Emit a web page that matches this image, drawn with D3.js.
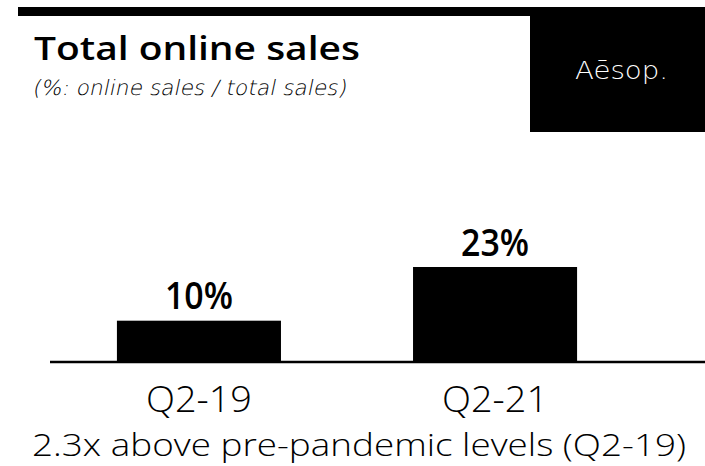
<!DOCTYPE html>
<html>
<head>
<meta charset="utf-8">
<script src="https://cdn.jsdelivr.net/npm/d3@7"></script>
<style>
  html, body { margin: 0; padding: 0; background: #fff; }
  svg { display: block; font-family: "DejaVu Sans", sans-serif; }
  .heavy { font-family: "Open Sans", "Noto Sans", sans-serif; font-weight: 600; }
  .plain { font-family: "Open Sans", "Noto Sans", sans-serif; font-weight: 300; }
</style>
</head>
<body>
<svg id="chart" width="705" height="466"></svg>
<script>
// Online share of total sales by quarter
const categories = ["Q2-19", "Q2-21"];
const values = [10, 23];
const valueLabels = ["10%", "23%"];

const W = 705, H = 466;
const svg = d3.select("#chart");

// Stretch a text horizontally to a set width, keeping its anchor point
function fit(sel, width, extra = "") {
  const w = sel.node().getComputedTextLength();
  const x0 = +sel.attr("x") || 0, y0 = +sel.attr("y") || 0;
  sel.attr("x", 0).attr("y", 0)
    .attr("transform", `translate(${x0},${y0}) ${extra} scale(${width / w},1)`);
  return sel;
}

// Header band and brand block
svg.append("rect").attr("x", 18).attr("y", 7).attr("width", W - 18).attr("height", 9).attr("fill", "#000");
svg.append("rect").attr("x", 530).attr("y", 16).attr("width", W - 530).attr("height", 116).attr("fill", "#000");
fit(svg.append("text").attr("x", 575).attr("y", 79)
  .attr("fill", "#fff").attr("font-size", 25).attr("font-weight", 300)
  .text("Aēsop."), 93);

fit(svg.append("text").attr("class", "heavy").attr("x", 34).attr("y", 60)
  .attr("font-size", 32).attr("fill", "#000")
  .text("Total online sales"), 326);
fit(svg.append("text").attr("x", 32).attr("y", 95)
  .attr("font-size", 21).attr("font-weight", 200).attr("fill", "#000")
  .text("(%: online sales / total sales)"), 314, "skewX(-12)");

// Plot area
const baseY = 362;
const x = d3.scaleBand().domain(categories).range([50, 644]).paddingInner(0.446).paddingOuter(0.226);
const y = d3.scaleLinear().domain([0, 23]).range([baseY, 267]);

svg.selectAll("rect.bar").data(values).join("rect")
  .attr("class", "bar")
  .attr("x", (d, i) => x(categories[i]))
  .attr("width", x.bandwidth())
  .attr("y", d => y(d))
  .attr("height", d => baseY - y(d))
  .attr("fill", "#000");

svg.selectAll("text.val").data(values).join("text")
  .attr("class", "val heavy")
  .attr("x", (d, i) => x(categories[i]) + x.bandwidth() / 2)
  .attr("y", d => y(d) - 11.5)
  .attr("text-anchor", "middle")
  .attr("font-size", 37)
  .text((d, i) => valueLabels[i])
  .each(function () { fit(d3.select(this), 68); });

// Category axis
const axis = svg.append("g").attr("transform", `translate(0,${baseY})`)
  .call(d3.axisBottom(x).tickSize(0).tickPadding(0));
axis.select(".domain").remove();
svg.append("line").attr("x1", 50).attr("x2", W).attr("y1", baseY).attr("y2", baseY)
  .attr("stroke", "#000").attr("stroke-width", 2.5);
axis.selectAll(".tick text")
  .attr("class", "plain")
  .attr("dy", null).attr("y", 49.5).attr("x", 0)
  .attr("text-anchor", "middle")
  .attr("font-family", null).attr("font-size", 36).attr("fill", "#000")
  .each(function () { fit(d3.select(this), 106); });

fit(svg.append("text").attr("class", "plain").attr("x", 32).attr("y", 456)
  .attr("font-size", 32).attr("fill", "#000")
  .text("2.3x above pre-pandemic levels (Q2-19)"), 654);
</script>
</body>
</html>
